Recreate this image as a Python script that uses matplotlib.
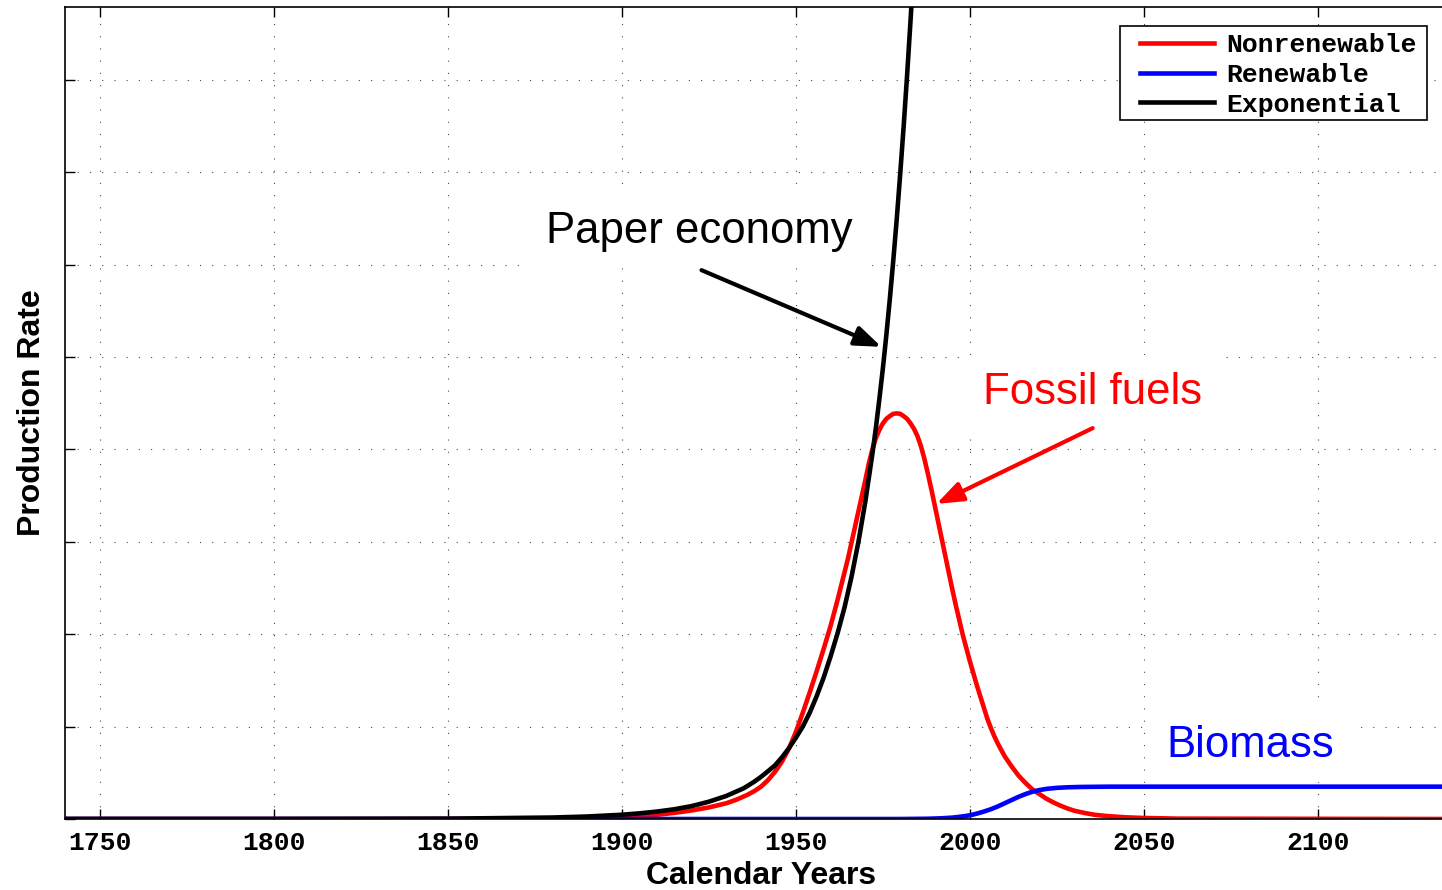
import matplotlib
matplotlib.use("Agg")
import matplotlib.pyplot as plt
from matplotlib.font_manager import FontProperties
from matplotlib.patches import Rectangle

plt.rcParams['font.family'] = ['Liberation Sans', 'DejaVu Sans']

# ---------------- data ----------------
years_nonrenew = [1740, 1850, 1880, 1890, 1900, 1905, 1910, 1915, 1920, 1925, 1930,
                  1933, 1936, 1938, 1940, 1942, 1944, 1946, 1948, 1950, 1952, 1954,
                  1956, 1958, 1960, 1961, 1962, 1963, 1964, 1965, 1966, 1967, 1968,
                  1969, 1970, 1971, 1972, 1973, 1974, 1975, 1976, 1977, 1978, 1979,
                  1980, 1981, 1982, 1983, 1984, 1985, 1986, 1987, 1988, 1989, 1990,
                  1991, 1992, 1993, 1994, 1995, 1996, 1997, 1998, 1999, 2000, 2001,
                  2002, 2003, 2004, 2005, 2006, 2007, 2008, 2009, 2010, 2012, 2014,
                  2016, 2018, 2020, 2022, 2024, 2026, 2028, 2030, 2033, 2036, 2040,
                  2045, 2050, 2060, 2140]
nonrenewable = [0.0, 0.0, 0.003, 0.008, 0.018, 0.028, 0.045, 0.066, 0.092, 0.125, 0.17,
                0.21, 0.26, 0.30, 0.35, 0.42, 0.51, 0.62, 0.76, 0.94, 1.15, 1.37,
                1.60, 1.84, 2.09, 2.23, 2.37, 2.52, 2.67, 2.82, 2.99, 3.16, 3.33,
                3.50, 3.67, 3.85, 4.00, 4.12, 4.21, 4.28, 4.33, 4.36, 4.385, 4.39,
                4.385, 4.36, 4.33, 4.28, 4.22, 4.14, 4.03, 3.89, 3.73, 3.56, 3.38,
                3.20, 3.02, 2.84, 2.66, 2.48, 2.31, 2.15, 1.99, 1.85, 1.71, 1.58,
                1.45, 1.33, 1.21, 1.09, 0.99, 0.90, 0.82, 0.75, 0.68, 0.57, 0.47,
                0.39, 0.32, 0.27, 0.22, 0.18, 0.145, 0.115, 0.09, 0.065, 0.045, 0.03,
                0.018, 0.011, 0.004, 0.0]

years_renew = [1740, 1980, 1988, 1992, 1995, 1998, 2000, 2002, 2004, 2006, 2008,
               2010, 2012, 2014, 2016, 2018, 2020, 2022, 2025, 2028, 2032, 2040, 2140]
renewable = [0.0, 0.0, 0.003, 0.008, 0.015, 0.028, 0.04, 0.058, 0.08, 0.105, 0.135,
             0.17, 0.205, 0.24, 0.27, 0.295, 0.313, 0.326, 0.337, 0.343, 0.347, 0.35,
             0.35]

years_exp = [1740, 1800, 1850, 1880, 1890, 1900, 1905, 1910, 1915, 1920, 1925, 1930,
             1935, 1938, 1940, 1942, 1944, 1946, 1948, 1950, 1952, 1954, 1956, 1958,
             1960, 1962, 1964, 1966, 1968, 1970, 1972, 1973, 1974, 1975, 1976, 1977,
             1978, 1979, 1980, 1981, 1982, 1983, 1984]
exponential = [0.0, 0.0003, 0.0036, 0.016, 0.027, 0.046, 0.061, 0.080, 0.105, 0.139,
               0.187, 0.249, 0.332, 0.402, 0.456, 0.517, 0.58, 0.666, 0.765, 0.878,
               1.0, 1.15, 1.33, 1.53, 1.76, 2.01, 2.29, 2.62, 3.00, 3.44, 3.95, 4.23,
               4.54, 4.87, 5.23, 5.62, 6.04, 6.49, 6.98, 7.50, 8.06, 8.66, 9.30]

series_labels = ['Nonrenewable', 'Renewable', 'Exponential']
series_colors = ['#ff0000', '#0000ff', '#000000']

x_ticks = [1750, 1800, 1850, 1900, 1950, 2000, 2050, 2100]
y_ticks = [0, 1, 2, 3, 4, 5, 6, 7, 8]

# ---------------- figure ----------------
W, H = 1442, 890
fig = plt.figure(figsize=(W / 100, H / 100), dpi=100)
ax = fig.add_axes([65 / W, 71 / H, 1392 / W, 812 / H])

lw = 3.3
l1, = ax.plot(years_nonrenew, nonrenewable, color=series_colors[0], lw=lw,
              label=series_labels[0])
l2, = ax.plot(years_renew, renewable, color=series_colors[1], lw=lw,
              label=series_labels[1])
l3, = ax.plot(years_exp, exponential, color=series_colors[2], lw=lw,
              label=series_labels[2])

ax.set_xlim(1740, 2140)
ax.set_ylim(0, 812 / 92.4)
ax.set_xticks(x_ticks)
ax.set_yticks(y_ticks)
ax.set_yticklabels([''] * len(y_ticks))
ax.tick_params(direction='in', length=7, width=1.0, top=True, right=True,
               labelsize=19, pad=8.5)
mono_bold = FontProperties(family='Liberation Mono', weight='bold', size=19)
for t in ax.get_xticklabels():
    t.set_fontproperties(mono_bold)

ax.grid(True, linestyle=(0, (1, 10)), linewidth=0.8, color='0.3')
for s in ax.spines.values():
    s.set_linewidth(1.2)

ax.set_xlabel('Calendar Years', fontsize=23, fontweight='bold')
ax.xaxis.set_label_coords(0.5, -0.0517)
ax.set_ylabel('Production Rate', fontsize=23, fontweight='bold')
ax.yaxis.set_label_coords(-0.013, 0.5)

# ---------------- annotations ----------------
box = dict(facecolor='white', edgecolor='none', pad=12)
ax.text(1922.4, 6.36, 'Paper economy', fontsize=31.5, color='black',
        ha='center', va='center', bbox=box, zorder=3)
ax.annotate('', xy=(1974.6, 5.11), xytext=(1922.9, 5.94),
            arrowprops=dict(arrowstyle='-|>,head_length=0.8,head_width=0.3',
                            lw=3, color='black', shrinkA=0, shrinkB=0,
                            mutation_scale=20), zorder=4)

ax.text(2035.3, 4.62, 'Fossil fuels', fontsize=31.5, color='#ff0000',
        ha='center', va='center', bbox=box, zorder=3)
ax.annotate('', xy=(1990.4, 3.41), xytext=(2035.3, 4.23),
            arrowprops=dict(arrowstyle='-|>,head_length=0.8,head_width=0.3',
                            lw=3, color='#ff0000', shrinkA=0, shrinkB=0,
                            mutation_scale=20), zorder=4)

ax.text(2080.5, 0.80, 'Biomass', fontsize=31.5, color='#0000ff',
        ha='center', va='center', bbox=box, zorder=3)

# ---------------- legend ----------------
frame = Rectangle((1120 / W, (H - 120) / H), 307 / W, 94 / H,
                  transform=fig.transFigure, facecolor='white',
                  edgecolor='black', linewidth=1.2, clip_on=False, zorder=4.5)
ax.add_patch(frame)
leg = ax.legend(handles=[l1, l2, l3], loc='upper left',
                bbox_to_anchor=(1139.5 / W, (H - 33) / H),
                bbox_transform=fig.transFigure, prop=mono_bold,
                frameon=False, handlelength=2.82, handletextpad=0.46,
                borderpad=0, labelspacing=0.22, borderaxespad=0)
leg.set_zorder(5)

fig.savefig('out.png', dpi=100)
